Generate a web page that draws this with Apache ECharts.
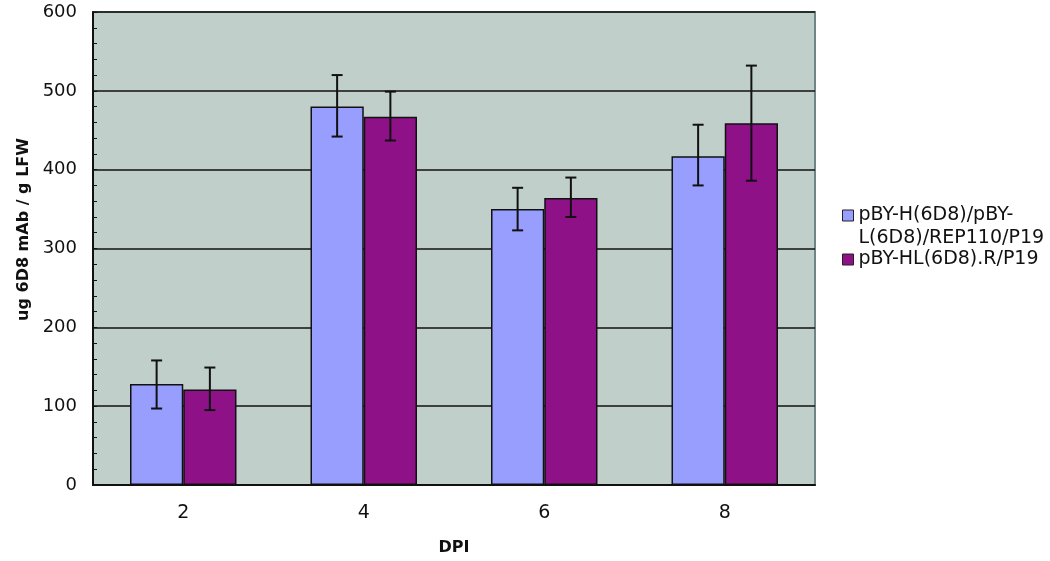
<!DOCTYPE html>
<html><head><meta charset="utf-8">
<script src="https://cdn.jsdelivr.net/npm/echarts@6/dist/echarts.min.js"></script>
<style>html,body{margin:0;padding:0;background:#fff}#c{width:1050px;height:561px}</style>
</head><body><div id="c"></div>
<script>
const categories = ['2', '4', '6', '8'];
const seriesNames = ['pBY-H(6D8)/pBY-\nL(6D8)/REP110/P19', 'pBY-HL(6D8).R/P19'];
const valuesA = [128, 480, 350, 417];
const errLowA = [97, 442, 323, 380];
const errHighA = [158, 520, 377, 457];
const valuesB = [121, 467, 364, 459];
const errLowB = [95, 437, 340, 386];
const errHighB = [149, 499, 390, 532];
const colors = ['#979EFE', '#8E1188'];

const FONT = 'DejaVu Sans, sans-serif';
const GRID = {left: 93, right: 235, top: 12, bottom: 75};
const plotWidth = 1050 - GRID.left - GRID.right;
const chart = echarts.init(document.getElementById('c'), null, {renderer: 'canvas'});
function errSeries(low, high, offsetFrac) {
  return {
    type: 'custom',
    z: 10,
    silent: true,
    data: categories.map((c, i) => [i, low[i], high[i]]),
    renderItem: function (params, api) {
      const idx = api.value(0);
      const band = api.size([1, 0])[0];
      const c0 = api.coord([idx, api.value(1)]);
      const c1 = api.coord([idx, api.value(2)]);
      const x = c0[0] + band * offsetFrac;
      const hw = 5.5;
      const st = {stroke: '#111', lineWidth: 2};
      return {type: 'group', children: [
        {type: 'line', shape: {x1: x, y1: c0[1], x2: x, y2: c1[1]}, style: st},
        {type: 'line', shape: {x1: x - hw, y1: c0[1], x2: x + hw, y2: c0[1]}, style: st},
        {type: 'line', shape: {x1: x - hw, y1: c1[1], x2: x + hw, y2: c1[1]}, style: st}
      ]};
    }
  };
}
chart.setOption({
  animation: false,
  textStyle: {fontFamily: FONT},
  grid: Object.assign({show: true, backgroundColor: '#C1CFCB', borderColor: '#708585', borderWidth: 2}, GRID),
  legend: {
    orient: 'vertical', left: 837, top: 176, itemWidth: 11, itemHeight: 11, itemGap: -2,
    icon: 'rect',
    formatter: function (name) { return name.indexOf('\n') >= 0 ? '\n' + name : name; },
    textStyle: {fontSize: 19, color: '#111', lineHeight: 23, padding: [0, 0, 0, 0], fontFamily: FONT},
    itemStyle: {borderColor: '#222', borderWidth: 1},
    data: seriesNames
  },
  xAxis: {
    type: 'category', data: categories,
    name: 'DPI', nameLocation: 'middle', nameGap: 55,
    nameTextStyle: {fontSize: 16, fontWeight: 'bold', color: '#111', fontFamily: FONT},
    axisLine: {lineStyle: {color: '#111', width: 2}},
    axisTick: {show: false},
    axisLabel: {fontSize: 19, color: '#111', margin: 19, fontFamily: FONT}
  },
  yAxis: [{
    type: 'value', min: 0, max: 600, interval: 100,
    name: 'ug 6D8 mAb / g LFW', nameLocation: 'middle', nameGap: 49,
    nameTextStyle: {fontSize: 16, fontWeight: 'bold', color: '#111', fontFamily: FONT, padding: [0, 0, 0, 38]},
    axisLine: {show: true, lineStyle: {color: '#111', width: 2}},
    axisTick: {show: false},
    axisLabel: {fontSize: 18, color: '#111', margin: 16, fontFamily: FONT},
    splitLine: {lineStyle: {color: '#111', width: 1.5}}
  }, {
    type: 'value', min: 0, max: 600, interval: 20,
    position: 'right', offset: -plotWidth,
    axisLine: {show: false},
    axisTick: {show: true, length: 4, lineStyle: {color: '#111', width: 1}},
    axisLabel: {show: false},
    splitLine: {show: false}
  }],
  series: [
    {name: seriesNames[0], type: 'bar', data: valuesA, barGap: '0%', barCategoryGap: '41%',
     itemStyle: {color: colors[0], borderColor: '#111', borderWidth: 1.5}},
    {name: seriesNames[1], type: 'bar', data: valuesB, barGap: '0%', barCategoryGap: '41%',
     itemStyle: {color: colors[1], borderColor: '#111', borderWidth: 1.5}},
    errSeries(errLowA, errHighA, -0.1475),
    errSeries(errLowB, errHighB, 0.1475)
  ]
});
</script></body></html>
